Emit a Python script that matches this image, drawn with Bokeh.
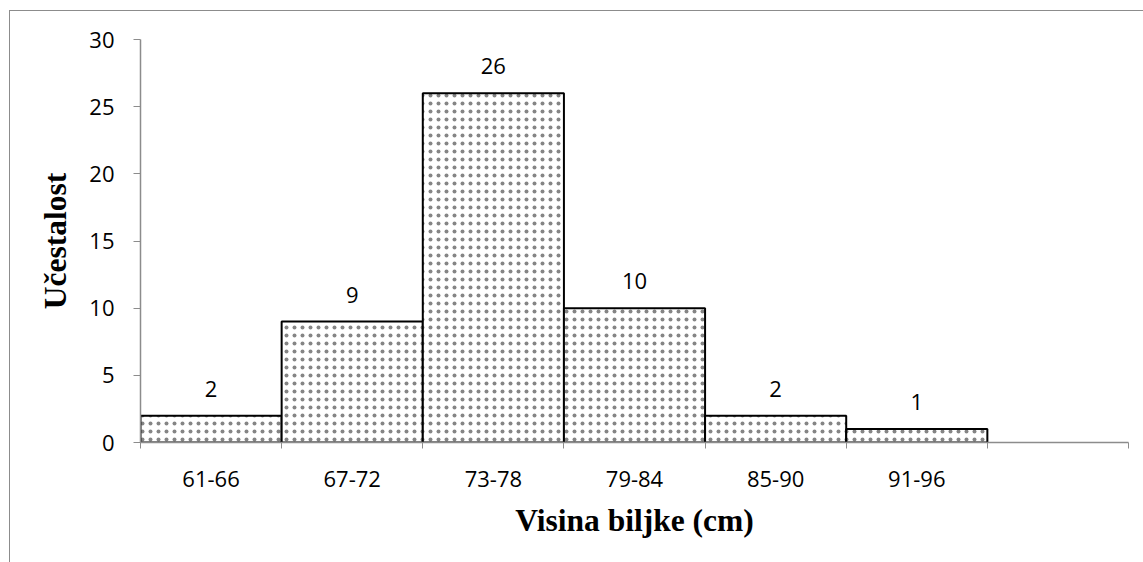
from bokeh.plotting import figure
from bokeh.models import ColumnDataSource, FixedTicker, LabelSet, Range1d
from bokeh.core.properties import value
from bokeh.embed import file_html
from bokeh.resources import INLINE

categories = ["61-66", "67-72", "73-78", "79-84", "85-90", "91-96"]
counts = [2, 9, 26, 10, 2, 1]
y_ticks = [0, 5, 10, 15, 20, 25, 30]
x_title = "Visina biljke (cm)"
y_title = "Učestalost"

n_slots = len(categories) + 1  # an empty slot at the right, as in the reference
xs = [i + 0.5 for i in range(len(categories))]

src = ColumnDataSource(dict(x=xs, top=counts, lab=[str(c) for c in counts]))

p = figure(width=1134, height=552, output_backend="svg", toolbar_location=None,
           x_range=Range1d(0, n_slots), y_range=Range1d(0, 30),
           min_border_left=130, min_border_right=16, min_border_top=28,
           min_border_bottom=121, margin=(10, 0, 0, 9))
p.styles = {"border-left": "1px solid #8c8c8c", "border-top": "1px solid #8c8c8c"}
p.outline_line_color = None
p.grid.visible = False
p.background_fill_color = "white"
p.border_fill_color = "white"

p.vbar(x="x", top="top", width=1.0, bottom=0, source=src,
       fill_color="white", line_color="black", line_width=2,
       hatch_pattern="dot", hatch_scale=8, hatch_color="#333333",
       hatch_weight=1, hatch_alpha=0.6)

labels = LabelSet(x="x", y="top", text="lab", source=src, y_offset=19,
                  text_align="center", text_baseline="bottom",
                  text_font=value("Open Sans"), text_font_size=value("22px"),
                  text_color="black")
p.add_layout(labels)

ax = p.xaxis[0]
ax.ticker = FixedTicker(ticks=xs, minor_ticks=list(range(n_slots + 1)))
ax.major_label_overrides = {x: c for x, c in zip(xs, categories)}
ax.major_tick_out = 0
ax.major_tick_in = 0
ax.minor_tick_out = 6
ax.minor_tick_in = 0
ax.minor_tick_line_color = "#8c8c8c"
ax.axis_line_color = "#8c8c8c"
ax.axis_line_width = 1.5
ax.major_label_standoff = 22
ax.major_label_text_font = "Open Sans"
ax.major_label_text_font_size = "22px"
ax.major_label_text_color = "black"
ax.axis_label = x_title
ax.axis_label_text_font = "Liberation Serif"
ax.axis_label_text_font_style = "bold"
ax.axis_label_text_font_size = "31.5px"
ax.axis_label_text_color = "black"
ax.axis_label_standoff = 13

ay = p.yaxis[0]
ay.ticker = FixedTicker(ticks=y_ticks, minor_ticks=[])
ay.major_tick_out = 7
ay.major_tick_in = 0
ay.major_tick_line_color = "#8c8c8c"
ay.axis_line_color = "#8c8c8c"
ay.axis_line_width = 1.5
ay.major_label_standoff = 19
ay.major_label_text_font = "Open Sans"
ay.major_label_text_font_size = "22px"
ay.major_label_text_color = "black"
ay.axis_label = y_title
ay.axis_label_text_font = "Liberation Serif"
ay.axis_label_text_font_style = "bold"
ay.axis_label_text_font_size = "31.5px"
ay.axis_label_text_color = "black"
ay.axis_label_standoff = 13

open("out.html", "w").write(file_html(p, INLINE))
